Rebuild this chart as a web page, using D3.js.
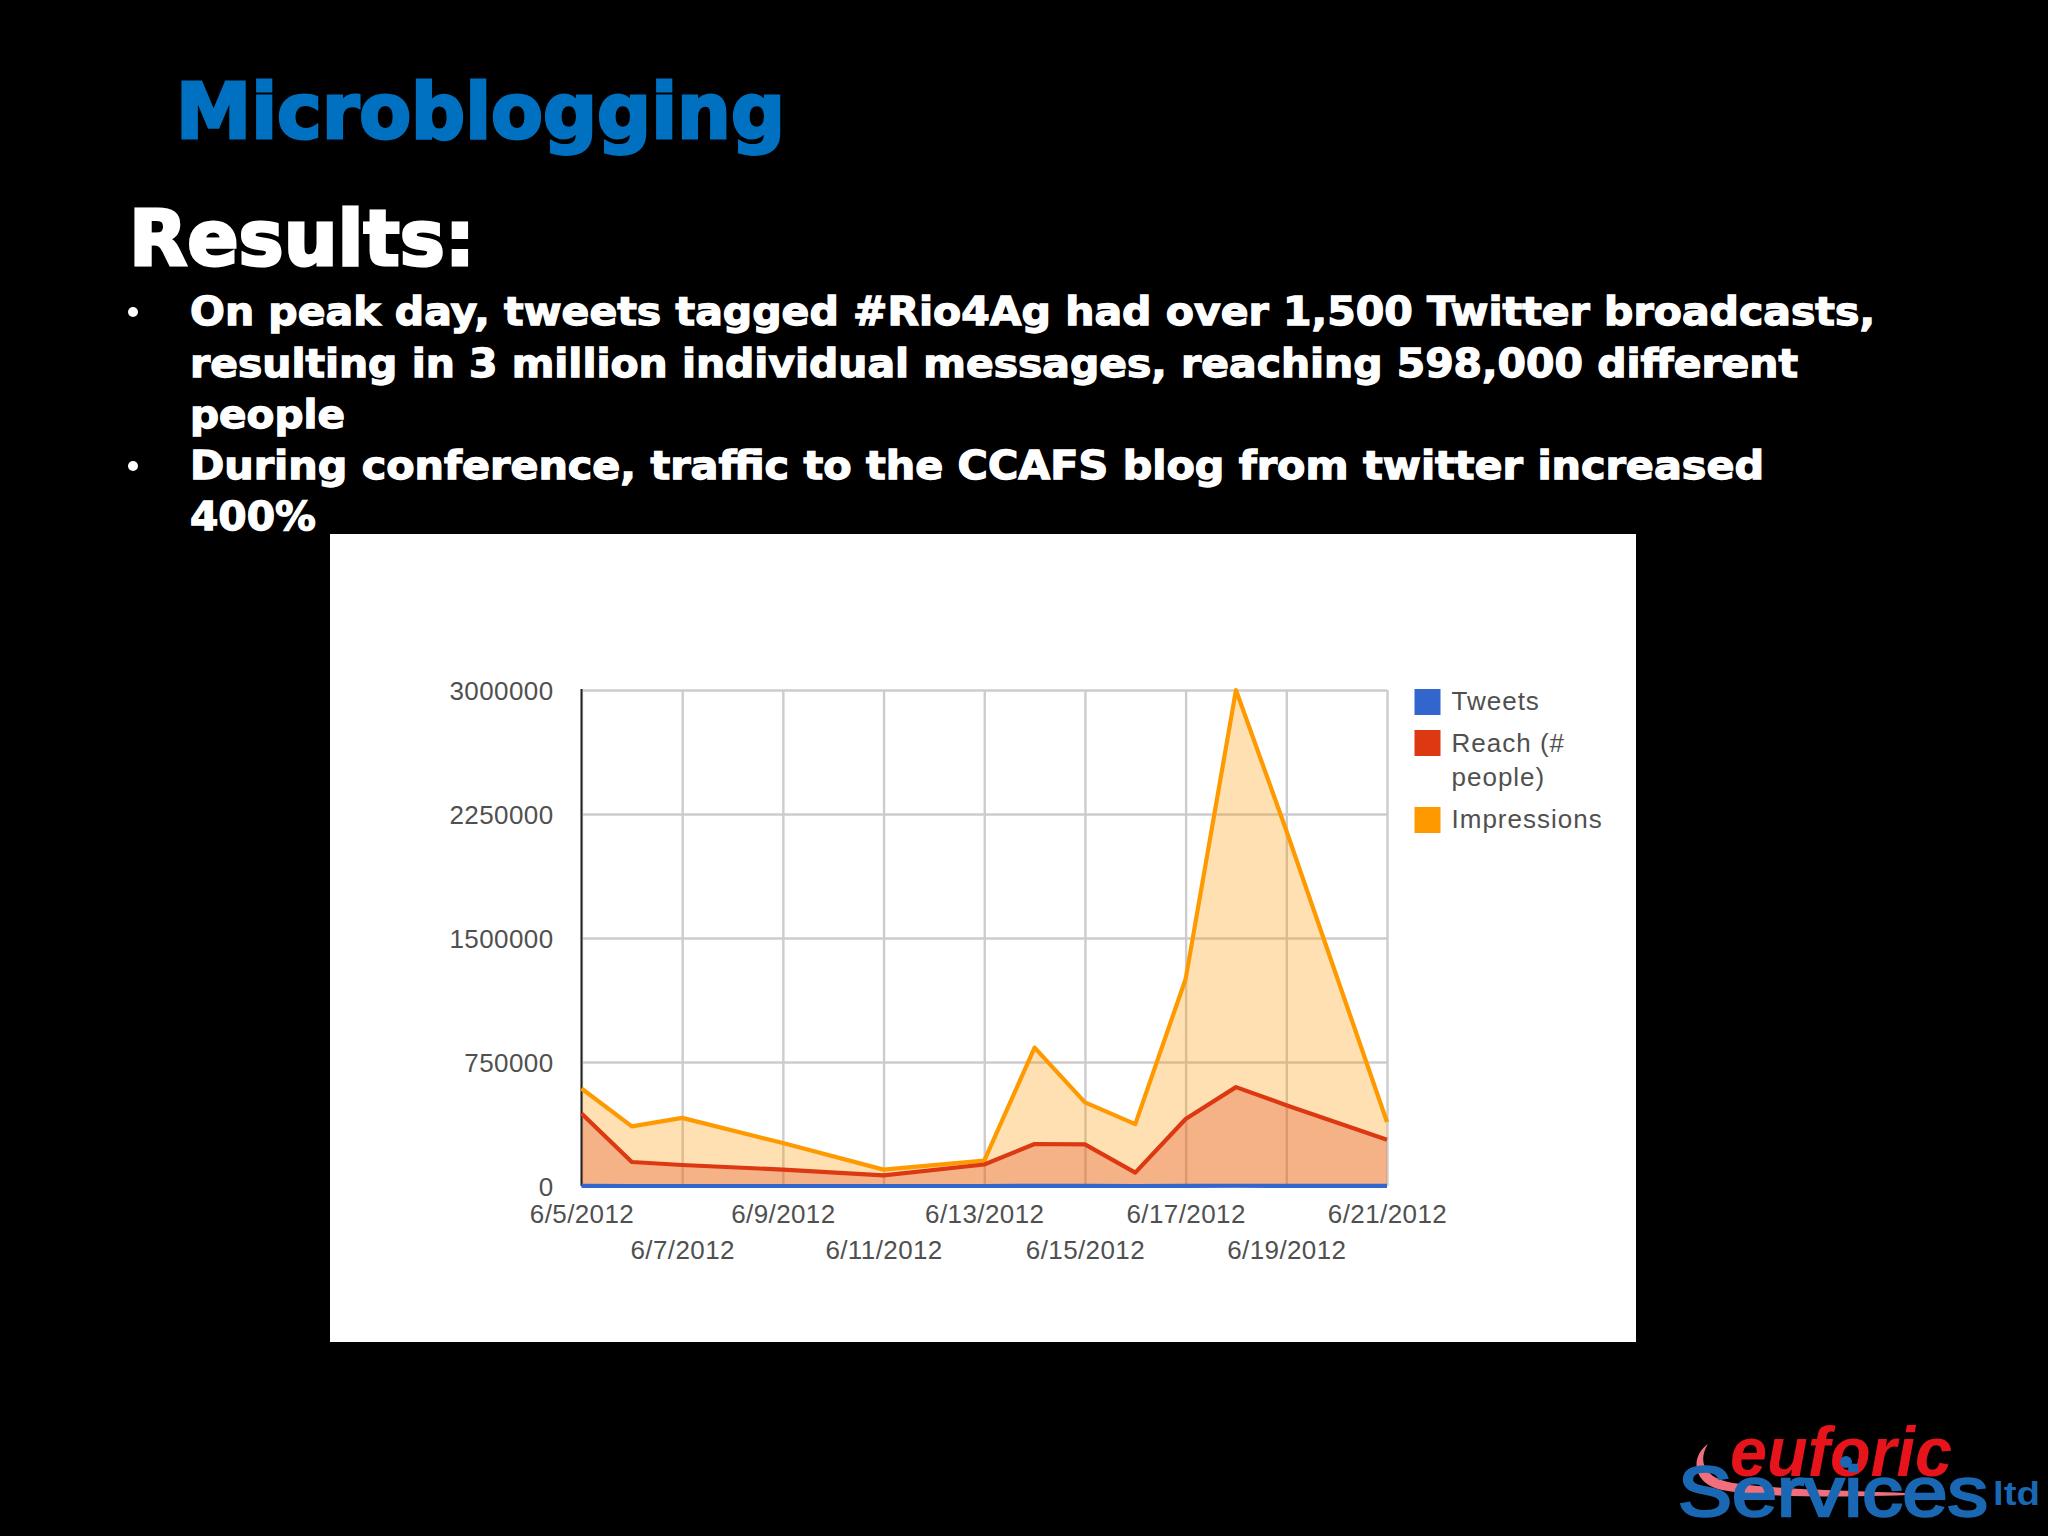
<!DOCTYPE html>
<html><head><meta charset="utf-8">
<script src="https://cdn.jsdelivr.net/npm/d3@7/dist/d3.min.js"></script>
<style>html,body{margin:0;padding:0;background:#000}svg{display:block}</style>
</head><body><svg id="s" width="2048" height="1536"></svg>
<script>
const dates = ["6/5/2012","6/6/2012","6/7/2012","6/9/2012","6/11/2012","6/13/2012","6/14/2012","6/15/2012","6/16/2012","6/17/2012","6/18/2012","6/19/2012","6/21/2012"];
const impressions = [590000,361000,412000,260000,99000,153000,837000,506000,374000,1252000,3000000,2150000,387000];
const reach = [438000,145000,127000,99000,64000,130000,254000,252000,81000,405000,598000,489000,280000];
const tweets = [300,150,120,90,60,110,350,300,150,800,1550,1100,500];
const xTickLabels = ["6/5/2012","6/7/2012","6/9/2012","6/11/2012","6/13/2012","6/15/2012","6/17/2012","6/19/2012","6/21/2012"];
const yTicks = [0,750000,1500000,2250000,3000000];
const legendRows = [["Tweets"],["Reach (#","people)"],["Impressions"]];
const title = "Microblogging";
const heading = "Results:";
const bodyLines = [
 "On peak day, tweets tagged #Rio4Ag had over 1,500 Twitter broadcasts,",
 "resulting in 3 million individual messages, reaching 598,000 different",
 "people",
 "During conference, traffic to the CCAFS blog from twitter increased",
 "400%"];
const COL = {tweets:"#3366cc",reach:"#dc3912",impr:"#ff9900"};

const svg = d3.select("#s");
svg.append("rect").attr("width",2048).attr("height",1536).attr("fill","#000");
const BOLD = "'DejaVu Sans',sans-serif";

svg.append("text").attr("x",176).attr("y",138).attr("font-family",BOLD).attr("font-weight",700)
  .attr("font-size",76).attr("fill","#0070c0").attr("stroke","#0070c0").attr("stroke-width",3)
  .attr("textLength",609).attr("lengthAdjust","spacingAndGlyphs").text(title);
svg.append("text").attr("x",129).attr("y",265).attr("font-family",BOLD).attr("font-weight",700)
  .attr("font-size",77).attr("fill","#fff").attr("stroke","#fff").attr("stroke-width",3)
  .attr("textLength",346).attr("lengthAdjust","spacingAndGlyphs").text(heading);

const lineY = [325,377,428,479,530], lineW = [1685,1608,155,1574,126];
bodyLines.forEach((t,i)=>{
  svg.append("text").attr("x",190).attr("y",lineY[i]).attr("font-family",BOLD).attr("font-weight",700)
    .attr("font-size",39).attr("fill","#fff").attr("stroke","#fff").attr("stroke-width",1.3)
    .attr("textLength",lineW[i]).attr("lengthAdjust","spacingAndGlyphs").text(t);
});
[0,3].forEach(i=>svg.append("circle").attr("cx",133).attr("cy",lineY[i]-13).attr("r",5).attr("fill","#fff"));

// white chart panel
svg.append("rect").attr("x",330).attr("y",534).attr("width",1306).attr("height",808).attr("fill","#fff");

const parse = d3.utcParse("%m/%d/%Y"), fmt = d3.utcFormat("%-m/%-d/%Y");
const L=581.5,R=1387,T=690,B=1186;
const x = d3.scaleUtc().domain([parse("6/5/2012"),parse("6/21/2012")]).range([L,R]);
const y = d3.scaleLinear().domain([0,3000000]).range([B,T]);
const ds = dates.map(parse);
const FONT = "'Liberation Sans',Arial,sans-serif";

// grid + axes
const gy = svg.append("g").attr("transform",`translate(${L},0)`)
  .call(d3.axisLeft(y).tickValues(yTicks).tickSize(-(R-L)).tickPadding(28).tickFormat(d=>String(d)));
const gx = svg.append("g").attr("transform",`translate(0,${B})`)
  .call(d3.axisBottom(x).tickValues(xTickLabels.map(parse)).tickSize(-(B-T)).tickPadding(0).tickFormat(fmt));
[gx,gy].forEach(g=>{
  g.select(".domain").remove();
  g.selectAll("line").attr("stroke","#cccccc").attr("stroke-width",2.4);
  g.selectAll("text").attr("font-family",FONT).attr("font-size",26).attr("fill","#505050").attr("letter-spacing",0.4);
});
gy.selectAll("text").attr("dy","0.35em");
gx.selectAll("text").attr("dy",0).attr("y",(d,i)=> i%2 ? 73 : 37);

const area = v => d3.area().x((d,i)=>x(ds[i])).y0(B).y1(d=>y(d))(v);
const line = v => d3.line().x((d,i)=>x(ds[i])).y(d=>y(d))(v);
[[impressions,COL.impr,0.3],[reach,COL.reach,0.27],[tweets,COL.tweets,0.3]].forEach(([v,c,o])=>{
  svg.append("path").attr("d",area(v)).attr("fill",c).attr("fill-opacity",o);
});
// left axis
svg.append("line").attr("x1",L).attr("x2",L).attr("y1",T-1).attr("y2",B).attr("stroke","#222").attr("stroke-width",2);
[[impressions,COL.impr],[reach,COL.reach],[tweets,COL.tweets]].forEach(([v,c])=>{
  svg.append("path").attr("d",line(v)).attr("fill","none").attr("stroke",c).attr("stroke-width",4.2).attr("stroke-linejoin","round");
});

// legend
const legX=1414.5, swatch=26, txtX=1451.5;
const legCols=[COL.tweets,COL.reach,COL.impr], legTop=[689,730,807], legBase=[[709.5],[751.5,786],[827.5]];
legendRows.forEach((rows,i)=>{
  svg.append("rect").attr("x",legX).attr("y",legTop[i]).attr("width",swatch).attr("height",swatch).attr("fill",legCols[i]);
  rows.forEach((t,j)=>svg.append("text").attr("x",txtX).attr("y",legBase[i][j]).attr("font-family",FONT)
    .attr("font-size",26).attr("letter-spacing",1).attr("fill","#505050").text(t));
});

// logo
const logo = svg.append("g");
logo.append("text").attr("x",1730).attr("y",1476).attr("font-family",FONT).attr("font-weight",700).attr("font-style","italic")
  .attr("font-size",70).attr("fill","#e8141c").attr("textLength",222).attr("lengthAdjust","spacingAndGlyphs").text("euforic");
logo.append("path").attr("d","M1708 1444 C1690 1456 1692 1484 1722 1490 C1770 1499 1870 1497 1930 1494 C1870 1491 1770 1490 1728 1482 C1703 1476 1698 1460 1708 1444Z")
  .attr("fill","#ef6f7c");
logo.append("text").attr("x",1678).attr("y",1516).attr("font-family",FONT).attr("font-weight",400)
  .attr("font-size",70).attr("fill","#1a67b3").attr("stroke","#1a67b3").attr("stroke-width",2.5).attr("textLength",310).attr("lengthAdjust","spacingAndGlyphs").text("Services");
logo.append("text").attr("x",1993).attr("y",1505).attr("font-family",FONT).attr("font-weight",700)
  .attr("font-size",34).attr("fill","#1a67b3").attr("textLength",47).attr("lengthAdjust","spacingAndGlyphs").text("ltd");
logo.append("circle").attr("cx",1846).attr("cy",1462).attr("r",6).attr("fill","#1a67b3");
</script></body></html>
